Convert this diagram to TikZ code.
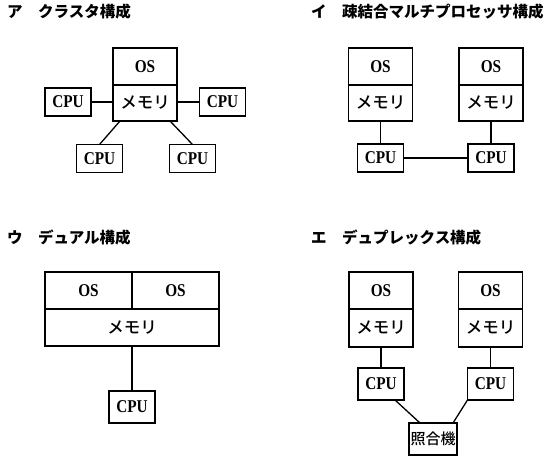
\documentclass[tikz,border=0pt]{standalone}
\usepackage{fontspec}
\newfontfamily\latfont{Liberation Serif}[FakeStretch=0.85]
\newfontfamily\jpfont{Noto Sans CJK JP}
\newfontfamily\jpmed{Noto Sans CJK JP Medium}
\usetikzlibrary{positioning,calc}
\tikzset{
  box/.style     = {draw,line width=1.3pt,outer sep=0pt,inner sep=0pt,
                    align=center},
  cpubox/.style  = {box,minimum width=46pt,minimum height=28pt,
                    font={\latfont\bfseries\fontsize{18}{18}\selectfont}},
  osbox/.style   = {box,minimum width=64pt,minimum height=37pt,
                    font={\latfont\bfseries\fontsize{18}{18}\selectfont}},
  membox/.style  = {box,minimum width=64pt,minimum height=36pt,
                    font={\jpmed\fontsize{16.5}{16.5}\selectfont}},
  ttl/.style     = {inner sep=0pt,anchor=west,
                    font={\jpfont\bfseries\fontsize{15.5}{15.5}\selectfont}},
  link/.style    = {line width=1.3pt},
}
\begin{document}
\begin{tikzpicture}[x=1pt,y=-1pt]
  \useasboundingbox (0,0) rectangle (556,466);

  % --- ア: cluster
  \node[ttl] (title-a) at (7,11.5) {ア　クラスタ構成};
  \node[osbox] (os-a) at (145,66.5) {OS};
  \node[membox,below=0pt of os-a] (mem-a) {メモリ};
  \node[cpubox] (cpu-al) at (68,102) {CPU};
  \node[cpubox] (cpu-ar) at (222.5,102) {CPU};
  \node[cpubox] (cpu-bl) at (99.5,158.5) {CPU};
  \node[cpubox] (cpu-br) at (192.5,158.5) {CPU};
  \draw[link] (cpu-al.east) -- (cpu-al.east -| mem-a.west);
  \draw[link] (cpu-ar.west) -- (cpu-ar.west -| mem-a.east);
  \draw[link] ([xshift=7pt]mem-a.south west) -- (cpu-bl.north);
  \draw[link] ([xshift=-7pt]mem-a.south east) -- (cpu-br.north);

  % --- イ: loosely coupled
  \node[ttl] (title-i) at (311,11.5) {イ　疎結合マルチプロセッサ構成};
  \node[osbox] (os-il) at (380.5,66.5) {OS};
  \node[membox,below=0pt of os-il] (mem-il) {メモリ};
  \node[osbox] (os-ir) at (491,66.5) {OS};
  \node[membox,below=0pt of os-ir] (mem-ir) {メモリ};
  \node[cpubox] (cpu-il) at (380.5,158) {CPU};
  \node[cpubox] (cpu-ir) at (491,158) {CPU};
  \draw[link] (mem-il.south) -- (cpu-il.north);
  \draw[link] (mem-ir.south) -- (cpu-ir.north);
  \draw[link] (cpu-il) -- (cpu-ir);

  % --- ウ: dual
  \node[ttl] (title-u) at (7,237.5) {ウ　デュアル構成};
  \node[osbox,minimum width=87pt] (os-ul) at (88.5,290.5) {OS};
  \node[osbox,minimum width=87pt] (os-ur) at (175.5,290.5) {OS};
  \node[membox,minimum width=174pt,minimum height=37pt,
        below=0pt of os-ul.south east] (mem-u) {メモリ};
  \node[cpubox,minimum height=32pt] (cpu-u) at (132,407) {CPU};
  \draw[link] (mem-u.south) -- (cpu-u.north);

  % --- エ: duplex
  \node[ttl] (title-e) at (311,237.5) {エ　デュプレックス構成};
  \node[osbox] (os-el) at (381,290.5) {OS};
  \node[membox,minimum height=38pt,below=0pt of os-el] (mem-el) {メモリ};
  \node[osbox] (os-er) at (490.5,290.5) {OS};
  \node[membox,minimum height=38pt,below=0pt of os-er] (mem-er) {メモリ};
  \node[cpubox,minimum height=32pt] (cpu-el) at (381,384) {CPU};
  \node[cpubox,minimum height=32pt] (cpu-er) at (490.5,384) {CPU};
  \node[box,minimum width=48pt,minimum height=32pt,
        font={\jpmed\fontsize{15}{15}\selectfont}] (chk) at (433,439) {照合機};
  \draw[link] (mem-el.south) -- (cpu-el.north);
  \draw[link] (mem-er.south) -- (cpu-er.north);
  \draw[link] ([xshift=-9pt]cpu-el.south east) -- ([xshift=11pt]chk.north west);
  \draw[link] (cpu-er.south west) -- ([xshift=-4pt]chk.north east);
\end{tikzpicture}
\end{document}
